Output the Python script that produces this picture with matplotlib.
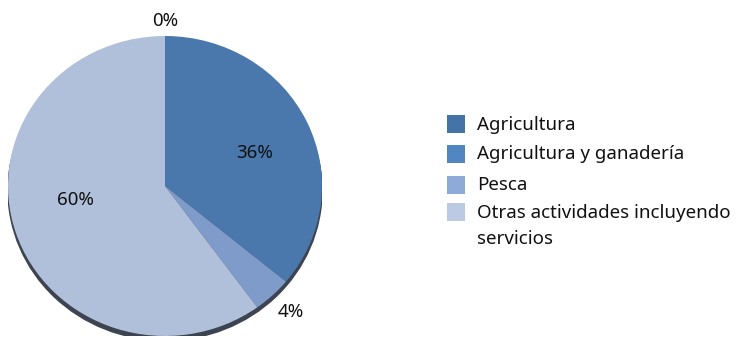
import matplotlib
matplotlib.use("Agg")
import matplotlib.pyplot as plt
from matplotlib.patches import Ellipse, Rectangle
import numpy as np

plt.rcParams['font.family'] = ['Noto Sans', 'DejaVu Sans']

categories = ["Agricultura", "Agricultura y ganadería", "Pesca",
              "Otras actividades incluyendo\nservicios"]
values = [0, 36, 4, 60]

slice_colors = ["#41699b", "#4a78ad", "#7f9bc9", "#b0bfda"]
legend_colors = ["#4673a6", "#5286c1", "#8eaad6", "#bccae4"]

# label placement: distance from centre and angle nudge (degrees)
label_r = [1.1, 0.61, 1.16, 0.58]
label_nudge = [0, 4, -0.4, 9]

W, H = 737, 342
fig = plt.figure(figsize=(W / 100, H / 100), dpi=100)

ax = fig.add_axes([8 / W, 6 / H, 314 / W, 300 / H])
# drop shadow under the pie
ax.add_patch(Ellipse((0.0, -0.03), 2.0, 2.0, color="#3d4451", zorder=0))
wedges, _ = ax.pie(values, colors=slice_colors, startangle=90,
                   counterclock=False, radius=1.0,
                   wedgeprops=dict(linewidth=0))
ax.set_aspect('auto')
ax.set_xlim(-1, 1)
ax.set_ylim(-1, 1)
ax.axis('off')

total = sum(values)
start = 0.0
for v, r, nudge in zip(values, label_r, label_nudge):
    mid = start + v / total * 360 / 2 + nudge
    a = np.radians(mid)
    ax.text(r * np.sin(a), r * np.cos(a), f"{v}%", ha='center', va='center',
            fontsize=13.5, color='#111111', clip_on=False)
    start += v / total * 360

# legend drawn in pixel positions, square level with the first text line
rows_y = [124, 153.5, 185, 212]
line_step = 26
for name, col, y in zip(categories, legend_colors, rows_y):
    fig.add_artist(Rectangle((447 / W, (H - y - 9) / H), 18 / W, 18 / H,
                             transform=fig.transFigure, color=col, lw=0))
    for i, line in enumerate(name.split('\n')):
        fig.text(477 / W, (H - y - 5.5 - i * line_step) / H, line,
                 ha='left', va='baseline', fontsize=13.5, color='#111111')

fig.savefig("out.png", dpi=100)
